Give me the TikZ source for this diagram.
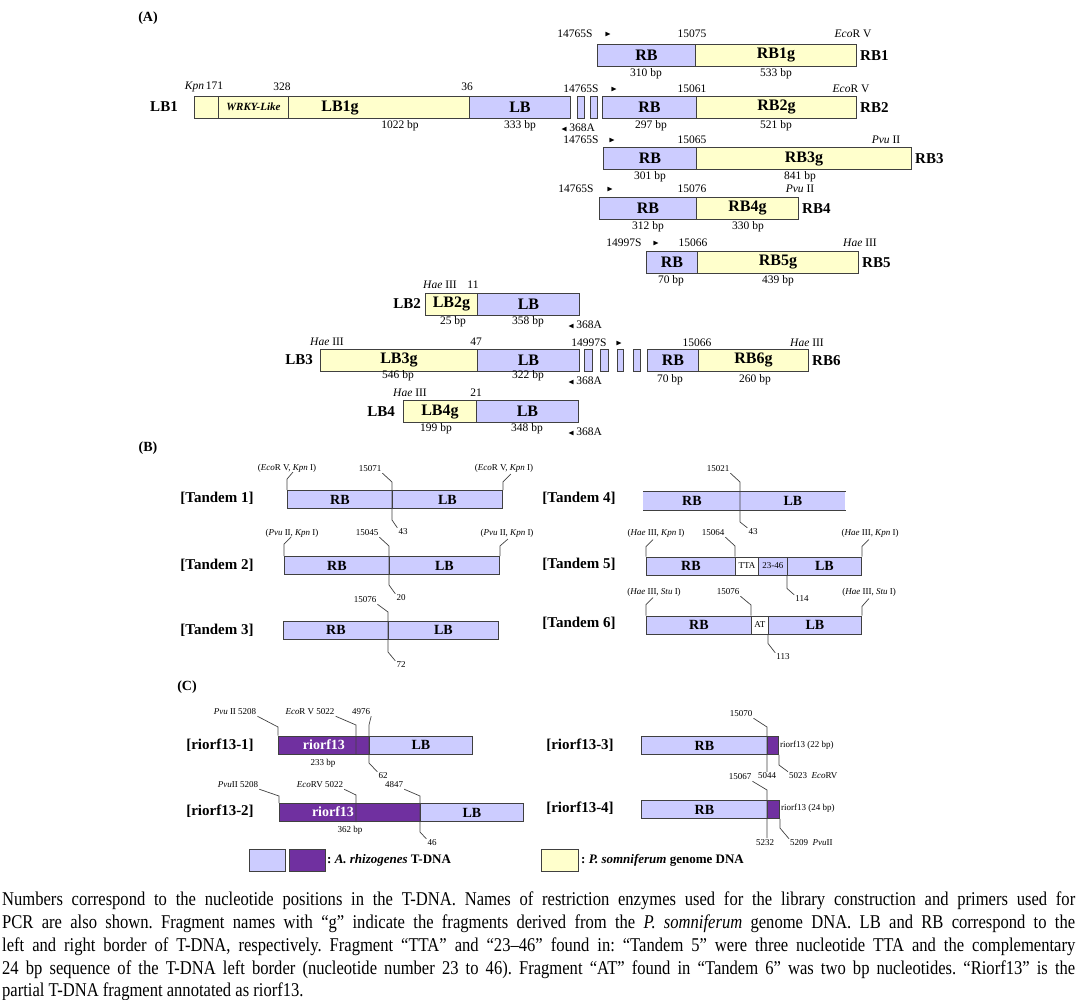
\documentclass[tikz,border=0pt]{standalone}
\usepackage{amssymb}
\usepackage{fontspec}
\setmainfont{Liberation Serif}
\newfontfamily\capfont[FakeStretch=0.85,Ligatures=TeX]{Liberation Serif}
\definecolor{lav}{HTML}{CCCCFF}
\definecolor{yel}{HTML}{FFFFCC}
\definecolor{pur}{HTML}{7030A0}
\definecolor{edge}{HTML}{404040}
\newcommand\fsz[1]{\fontsize{#1}{#1}\selectfont}
\newcommand\arr{{\fsz{8}$\blacktriangleright$}}
\newcommand\arl{{\fsz{8}$\blacktriangleleft$}}
\frenchspacing
\begin{document}
\begin{tikzpicture}[x=1pt,y=-1pt,
  seg/.style={draw=edge, line width=0.9pt, anchor=west, inner sep=0pt, minimum height=22pt, font=\bfseries\fsz{16}},
  segb/.style={seg, minimum height=18pt, font=\bfseries\fsz{14}},
  num/.style={inner sep=1pt, font=\fsz{11.5}},
  sm/.style={inner sep=1pt, font=\fsz{9}},
  tag/.style={inner sep=0pt, font=\bfseries\fsz{15}},
  capl/.style={anchor=base west, inner sep=0pt, font=\capfont\fsz{19.5}},
  lead/.style={draw=edge, line width=0.7pt}]
\useasboundingbox (0,0) rectangle (1077,1000);

% (A)
\node[tag, font=\bfseries\fsz{14}] (hA) at (148,18) {(A)};
% RB1
\node[num] (rb1p) at (575,34) {14765S};
\node[num] (rb1r) at (608,34) {\arr};
\node[num] (rb1n) at (692,34) {15075};
\node[num] (rb1e) at (853,34) {\textit{Eco}R V};
\node[seg, fill=lav, minimum width=98pt] (rb1t) at (597,55) {RB};
\node[seg, fill=yel, minimum width=161pt] (rb1g) at (695,55) {RB1g};
\node[tag, anchor=west] (rb1l) at (860,56) {RB1};
\node[num] (rb1a) at (646,74) {310 bp};
\node[num] (rb1b) at (776,74) {533 bp};
% LB1
\node[tag] (lb1l) at (164,107) {LB1};
\node[num] (lb1k) at (204,87) {\textit{Kpn}\,171};
\node[num] (lb1m) at (282,87) {328};
\node[num] (lb1n) at (467,87) {36};
\node[seg, fill=yel, minimum width=24pt] (lb1y) at (194,107) {};
\node[seg, fill=yel, minimum width=70pt, font=\bfseries\itshape\fsz{11}] (lb1w) at (218,107) {WRKY-Like};
\node[seg, fill=yel, minimum width=181pt] (lb1g) at (288,107) {};
\node[tag, font=\bfseries\fsz{16}] (lb1gt) at (340,108) {LB1g};
\node[seg, fill=lav, minimum width=101pt] (lb1t) at (469,107) {LB};
\node[seg, fill=lav, minimum width=7pt] (lb1s1) at (577,107) {};
\node[seg, fill=lav, minimum width=7pt] (lb1s2) at (590,107) {};
\node[num] (lb1a) at (400,126) {1022 bp};
\node[num] (lb1b) at (520,126) {333 bp};
\node[num] (lb1c) at (578,128) {\arl\,368A};
% RB2
\node[num] (rb2p) at (581,89) {14765S};
\node[num] (rb2r) at (614,89) {\arr};
\node[num] (rb2n) at (692,89) {15061};
\node[num] (rb2e) at (851,89) {\textit{Eco}R V};
\node[seg, fill=lav, minimum width=94pt] (rb2t) at (602,107) {RB};
\node[seg, fill=yel, minimum width=160pt] (rb2g) at (696,107) {RB2g};
\node[tag, anchor=west] (rb2l) at (860,108) {RB2};
\node[num] (rb2a) at (651,126) {297 bp};
\node[num] (rb2b) at (776,126) {521 bp};
% RB3
\node[num] (rb3p) at (581,140) {14765S};
\node[num] (rb3r) at (612,140) {\arr};
\node[num] (rb3n) at (692,140) {15065};
\node[num] (rb3e) at (886,140) {\textit{Pvu} II};
\node[seg, fill=lav, minimum width=93pt] (rb3t) at (603,158.5) {RB};
\node[seg, fill=yel, minimum width=215pt] (rb3g) at (696,158.5) {RB3g};
\node[tag, anchor=west] (rb3l) at (915,159) {RB3};
\node[num] (rb3a) at (650,177) {301 bp};
\node[num] (rb3b) at (800,177) {841 bp};
% RB4
\node[num] (rb4p) at (576,189) {14765S};
\node[num] (rb4r) at (610,189) {\arr};
\node[num] (rb4n) at (692,189) {15076};
\node[num] (rb4e) at (800,189) {\textit{Pvu} II};
\node[seg, fill=lav, minimum width=97pt] (rb4t) at (599,208.5) {RB};
\node[seg, fill=yel, minimum width=102pt] (rb4g) at (696,208.5) {RB4g};
\node[tag, anchor=west] (rb4l) at (802,209) {RB4};
\node[num] (rb4a) at (648,227) {312 bp};
\node[num] (rb4b) at (748,227) {330 bp};
% RB5
\node[num] (rb5p) at (624,243) {14997S};
\node[num] (rb5r) at (656,243) {\arr};
\node[num] (rb5n) at (693,243) {15066};
\node[num] (rb5e) at (860,243) {\textit{Hae} III};
\node[seg, fill=lav, minimum width=51pt] (rb5t) at (646,262.5) {RB};
\node[seg, fill=yel, minimum width=161pt] (rb5g) at (697,262.5) {RB5g};
\node[tag, anchor=west] (rb5l) at (862,263) {RB5};
\node[num] (rb5a) at (671,281) {70 bp};
\node[num] (rb5b) at (778,281) {439 bp};
% LB2
\node[num] (lb2e) at (440,285) {\textit{Hae} III};
\node[num] (lb2n) at (473,285) {11};
\node[seg, fill=yel, minimum width=52pt] (lb2g) at (425,304) {LB2g};
\node[seg, fill=lav, minimum width=102pt] (lb2t) at (477,304) {LB};
\node[tag, anchor=east] (lb2l) at (421,304) {LB2};
\node[num] (lb2a) at (453,322) {25 bp};
\node[num] (lb2b) at (528,322) {358 bp};
\node[num] (lb2c) at (585,325) {\arl\,368A};
% LB3 and RB6
\node[num] (lb3e) at (327,342) {\textit{Hae} III};
\node[num] (lb3n) at (476,342) {47};
\node[seg, fill=yel, minimum width=157pt] (lb3g) at (320,360) {LB3g};
\node[seg, fill=lav, minimum width=102pt] (lb3t) at (477,360) {LB};
\node[tag, anchor=east] (lb3l) at (313,360) {LB3};
\node[num] (lb3a) at (398,376) {546 bp};
\node[num] (lb3b) at (528,376) {322 bp};
\node[num] (lb3c) at (585,381) {\arl\,368A};
\node[num] (rb6p) at (589,343) {14997S};
\node[num] (rb6r) at (619,343) {\arr};
\node[seg, fill=lav, minimum width=8pt] (lb3s1) at (584,360) {};
\node[seg, fill=lav, minimum width=8pt] (lb3s2) at (600,360) {};
\node[seg, fill=lav, minimum width=6pt] (lb3s3) at (617,360) {};
\node[seg, fill=lav, minimum width=7pt] (lb3s4) at (633,360) {};
\node[num] (rb6n) at (697,343) {15066};
\node[num] (rb6e) at (807,343) {\textit{Hae} III};
\node[seg, fill=lav, minimum width=51pt] (rb6t) at (647,360) {RB};
\node[seg, fill=yel, minimum width=110pt] (rb6g) at (698,360) {RB6g};
\node[tag, anchor=west] (rb6l) at (812,361) {RB6};
\node[num] (rb6a) at (670,380) {70 bp};
\node[num] (rb6b) at (755,380) {260 bp};
% LB4
\node[num] (lb4e) at (410,393) {\textit{Hae} III};
\node[num] (lb4n) at (476,393) {21};
\node[seg, fill=yel, minimum width=73pt] (lb4g) at (403,411.5) {LB4g};
\node[seg, fill=lav, minimum width=102pt] (lb4t) at (476,411.5) {LB};
\node[tag, anchor=east] (lb4l) at (395,412) {LB4};
\node[num] (lb4a) at (436,429) {199 bp};
\node[num] (lb4b) at (527,429) {348 bp};
\node[num] (lb4c) at (585,432) {\arl\,368A};

% (B)
\node[tag, font=\bfseries\fsz{14}] (hB) at (148,448) {(B)};
% Tandem 1
\node[tag] (t1l) at (217,498) {[Tandem 1]};
\node[segb, fill=lav, minimum width=105pt] (t1rb) at (287,499.5) {RB};
\node[segb, fill=lav, minimum width=110pt] (t1lb) at (392,499.5) {LB};
\node[sm] (t1e) at (287,468) {(\textit{Eco}R V, \textit{Kpn} I)};
\node[sm] (t1f) at (504,468) {(\textit{Eco}R V, \textit{Kpn} I)};
\node[sm] (t1n) at (370,469) {15071};
\node[sm] (t1m) at (403,532) {43};
\draw[lead] (t1rb.north west) -- ++(0,-11) -- ++(6,-7);
\draw[lead] (t1lb.north east) -- ++(0,-8) -- ++(8,-8);
\draw[lead] (t1n.south east) -- (392,482) -- (392,520) -- (t1m.north west);
% Tandem 2
\node[tag] (t2l) at (217,565) {[Tandem 2]};
\node[segb, fill=lav, minimum width=105pt] (t2rb) at (284,565.5) {RB};
\node[segb, fill=lav, minimum width=110pt] (t2lb) at (389,565.5) {LB};
\node[sm] (t2e) at (292,533) {(\textit{Pvu} II, \textit{Kpn} I)};
\node[sm] (t2f) at (507,533) {(\textit{Pvu} II, \textit{Kpn} I)};
\node[sm] (t2n) at (367,533) {15045};
\node[sm] (t2m) at (401,598) {20};
\draw[lead] (t2rb.north west) -- ++(0,-12) -- ++(7,-7);
\draw[lead] (t2lb.north east) -- ++(0,-10) -- ++(8,-7);
\draw[lead] (t2n.south east) -- (389,546) -- (389,585) -- (t2m.north west);
% Tandem 3
\node[tag] (t3l) at (217,630) {[Tandem 3]};
\node[segb, fill=lav, minimum width=105pt] (t3rb) at (283,630) {RB};
\node[segb, fill=lav, minimum width=110pt] (t3lb) at (388,630) {LB};
\node[sm] (t3n) at (365,600) {15076};
\node[sm] (t3m) at (401,665) {72};
\draw[lead] (t3n.south east) -- (388,612) -- (388,652) -- (t3m.north west);
% Tandem 4
\node[tag] (t4l) at (579,498) {[Tandem 4]};
\node[segb, draw=none, fill=lav, minimum width=97pt] (t4rb) at (643,501) {RB};
\node[segb, draw=none, fill=lav, minimum width=105pt] (t4lb) at (740,501) {LB};
\draw[lead, line width=1.3pt] (t4rb.north west) -- (t4lb.north east);
\draw[lead] (t4rb.south west) -- (t4lb.south east);
\node[sm] (t4n) at (718,469) {15021};
\node[sm] (t4m) at (753,532) {43};
\draw[lead] (t4n.south east) -- (740,482) -- (740,522) -- (t4m.north west);
% Tandem 5
\node[tag] (t5l) at (579,564) {[Tandem 5]};
\node[segb, fill=lav, minimum width=89pt] (t5rb) at (646,566) {RB};
\node[segb, fill=white, minimum width=23pt, font=\fsz{9}] (t5tta) at (735,566) {TTA};
\node[segb, fill=lav, minimum width=29pt, font=\fsz{9}] (t5mid) at (758,566) {23-46};
\node[segb, fill=lav, minimum width=74pt] (t5lb) at (787,566) {LB};
\node[sm] (t5e) at (656,533) {(\textit{Hae} III, \textit{Kpn} I)};
\node[sm] (t5f) at (870,533) {(\textit{Hae} III, \textit{Kpn} I)};
\node[sm] (t5n) at (713,533) {15064};
\node[sm] (t5m) at (802,599) {114};
\draw[lead] (t5rb.north west) -- ++(0,-10) -- ++(7,-7);
\draw[lead] (t5lb.north east) -- ++(0,-10) -- ++(7,-7);
\draw[lead] (t5n.south east) -- (735,546) -- (t5tta.north west);
\draw[lead] (t5lb.south west) -- ++(0,13) -- (t5m.north west);
% Tandem 6
\node[tag] (t6l) at (579,623) {[Tandem 6]};
\node[segb, fill=lav, minimum width=105pt] (t6rb) at (646,625) {RB};
\node[segb, fill=white, minimum width=17pt, font=\fsz{9}] (t6at) at (751,625) {AT};
\node[segb, fill=lav, minimum width=93pt] (t6lb) at (768,625) {LB};
\node[sm] (t6e) at (654,592) {(\textit{Hae} III, \textit{Stu} I)};
\node[sm] (t6f) at (869,592) {(\textit{Hae} III, \textit{Stu} I)};
\node[sm] (t6n) at (728,592) {15076};
\node[sm] (t6m) at (783,657) {113};
\draw[lead] (t6rb.north west) -- ++(0,-11) -- ++(7,-7);
\draw[lead] (t6lb.north east) -- ++(0,-9) -- ++(7,-8);
\draw[lead] (t6n.south east) -- (751,605) -- (t6at.north west);
\draw[lead] (t6lb.south west) -- ++(0,9) -- (t6m.north west);

% (C)
\node[tag, font=\bfseries\fsz{14}] (hC) at (187,687) {(C)};
% riorf13-1
\node[tag] (c1l) at (220,745) {[riorf13-1]};
\node[segb, fill=pur, text=white, minimum width=91pt] (c1r) at (278,745) {riorf13};
\node[segb, fill=lav, minimum width=103pt] (c1lb) at (369,745) {LB};
\node[sm] (c1a) at (323,763) {233 bp};
\node[sm] (c1p) at (235,712) {\textit{Pvu} II 5208};
\node[sm] (c1e) at (310,712) {\textit{Eco}R V 5022};
\node[sm] (c1n) at (361,712) {4976};
\node[sm] (c1m) at (383,776) {62};
\draw[lead] (c1p.south east) -- (278,727) -- (c1r.north west);
\draw[lead] (c1e.south east) -- (356,725) -- (356,754);
\draw[lead] (c1n.south east) -- (369,725) -- (369,763) -- (c1m.north west);
% riorf13-2
\node[tag] (c2l) at (220,811) {[riorf13-2]};
\node[segb, fill=pur, minimum width=141pt] (c2r) at (279,812.5) {};
\node[tag, text=white, font=\bfseries\fsz{14}] (c2rt) at (333,812) {riorf13};
\node[segb, fill=lav, minimum width=103pt] (c2lb) at (420,812.5) {LB};
\node[sm] (c2a) at (350,830) {362 bp};
\node[sm] (c2p) at (238,785) {\textit{Pvu}II 5208};
\node[sm] (c2e) at (320,785) {\textit{Eco}RV 5022};
\node[sm] (c2n) at (394,785) {4847};
\node[sm] (c2m) at (432,843) {46};
\draw[lead] (c2p.south east) -- (279,796) -- (c2r.north west);
\draw[lead] (c2e.south east) -- (356,795) -- (356,822);
\draw[lead] (c2n.south east) -- (420,796) -- (420,832) -- (c2m.north west);
% riorf13-3
\node[tag] (c3l) at (580,745) {[riorf13-3]};
\node[segb, fill=lav, minimum width=126pt] (c3rb) at (641,745.5) {RB};
\node[segb, fill=pur, minimum width=11pt] (c3r) at (767,745.5) {};
\node[sm, anchor=west] (c3t) at (779,745) {riorf13 (22 bp)};
\node[sm] (c3n) at (741,714) {15070};
\node[sm] (c3m) at (767,776) {5044};
\node[sm, anchor=west] (c3k) at (788,776) {5023 \ \textit{Eco}RV};
\draw[lead] (c3n.south east) -- (767,727) -- (c3m.north);
\draw[lead] (c3r.south east) -- ++(0,10) -- (c3k.north west);
% riorf13-4
\node[tag] (c4l) at (580,808) {[riorf13-4]};
\node[segb, fill=lav, minimum width=126pt] (c4rb) at (641,809.5) {RB};
\node[segb, fill=pur, minimum width=12pt] (c4r) at (767,809.5) {};
\node[sm, anchor=west] (c4t) at (780,808) {riorf13 (24 bp)};
\node[sm] (c4n) at (740,777) {15067};
\node[sm] (c4m) at (765,843) {5232};
\node[sm, anchor=west] (c4k) at (789,843) {5209 \ \textit{Pvu}II};
\draw[lead] (c4n.south east) -- (767,790) -- (767,838);
\draw[lead] (c4r.south east) -- ++(0,9) -- (c4k.north west);

% legend
\node[seg, fill=lav, minimum width=36pt] (k1) at (249,860) {};
\node[seg, fill=pur, minimum width=36pt] (k2) at (289,860) {};
\node[tag, anchor=west, font=\bfseries\fsz{13}] (k2t) at (327,860) {: \textit{A. rhizogenes} T-DNA};
\node[seg, fill=yel, minimum width=37pt] (k3) at (541,860) {};
\node[tag, anchor=west, font=\bfseries\fsz{13}] (k3t) at (581,860) {: \textit{P. somniferum} genome DNA};

% caption
\node[capl] (cap1) at (2,905) {\makebox[1073pt][s]{Numbers correspond to the nucleotide positions in the T-DNA. Names of restriction enzymes used for the library construction and primers used for}};
\node[capl] (cap2) at (2,928) {\makebox[1073pt][s]{PCR are also shown. Fragment names with “g” indicate the fragments derived from the \textit{P. somniferum} genome DNA. LB and RB correspond to the}};
\node[capl] (cap3) at (2,951) {\makebox[1073pt][s]{left and right border of T-DNA, respectively. Fragment “TTA” and “23--46” found in: “Tandem 5” were three nucleotide TTA and the complementary}};
\node[capl] (cap4) at (2,974) {\makebox[1073pt][s]{24 bp sequence of the T-DNA left border (nucleotide number 23 to 46). Fragment “AT” found in “Tandem 6” was two bp nucleotides. “Riorf13” is the}};
\node[capl] (cap5) at (2,996) {partial T-DNA fragment annotated as riorf13.};
\end{tikzpicture}
\end{document}
